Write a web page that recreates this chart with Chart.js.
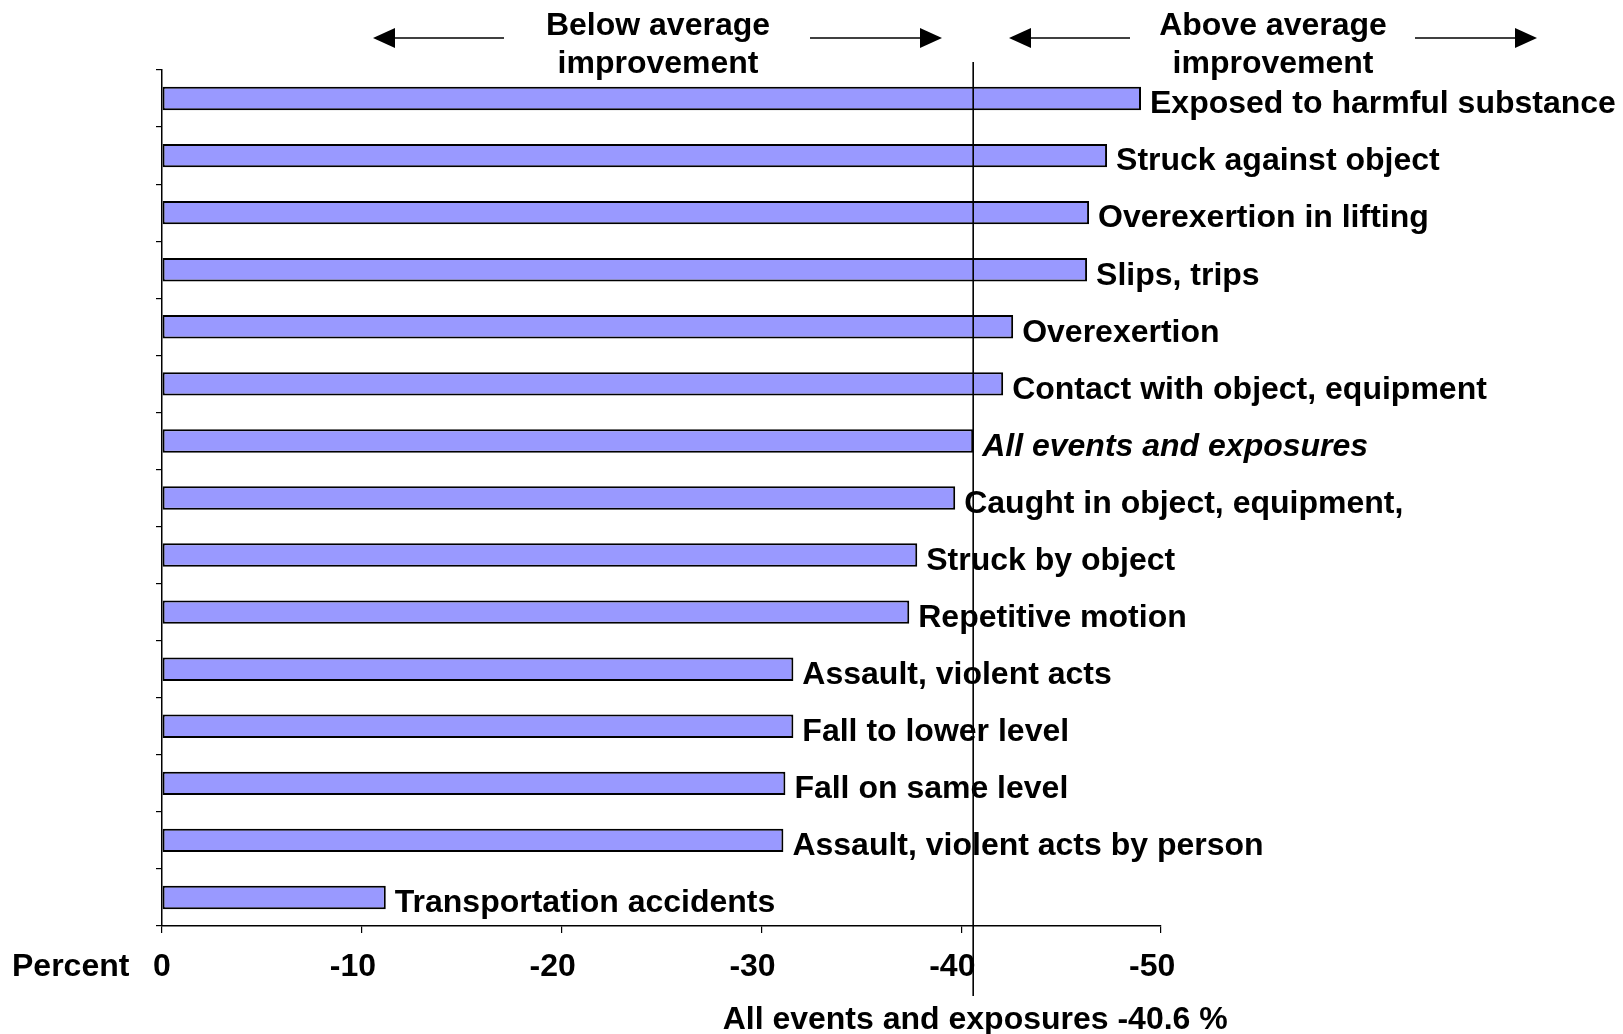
<!DOCTYPE html>
<html>
<head>
<meta charset="utf-8">
<script src="https://cdn.jsdelivr.net/npm/chart.js@4.4.0/dist/chart.umd.min.js"></script>
<style>
  html, body { margin: 0; padding: 0; background: #fff; }
  #wrap { width: 1623px; height: 1034px; }
</style>
</head>
<body>
<div id="wrap"><canvas id="chart"></canvas></div>
<script>
// Event categories, top to bottom
const categories = [
    'Exposed to harmful substance',
    'Struck against object',
    'Overexertion in lifting',
    'Slips, trips',
    'Overexertion',
    'Contact with object, equipment',
    'All events and exposures',
    'Caught in object, equipment,',
    'Struck by object',
    'Repetitive motion',
    'Assault, violent acts',
    'Fall to lower level',
    'Fall on same level',
    'Assault, violent acts by person',
    'Transportation accidents'
];

// Percent change per category
const changes = [-49.0, -47.3, -46.4, -46.3, -42.6, -42.1, -40.6, -39.7, -37.8, -37.4, -31.6, -31.6, -31.2, -31.1, -11.2];

// X axis tick labels
const xTicks = [0, -10, -20, -30, -40, -50];

const averageChange = -40.6;
const italicCategory = 'All events and exposures';
const captionText = 'All events and exposures -40.6 %';
const axisTitle = 'Percent';

const FONT = '"Liberation Sans", Arial, sans-serif';

function drawArrow(ctx, x1, x2, y) {
    // line from x1 to x2, head at x2
    const dir = x2 > x1 ? 1 : -1;
    ctx.beginPath();
    ctx.moveTo(x1, y);
    ctx.lineTo(x2 - dir * 18, y);
    ctx.stroke();
    ctx.beginPath();
    ctx.moveTo(x2, y);
    ctx.lineTo(x2 - dir * 22, y - 10);
    ctx.lineTo(x2 - dir * 22, y + 10);
    ctx.closePath();
    ctx.fill();
}

// Draws bar labels, the average line, arrows and header text
const annotations = {
    id: 'annotations',
    afterDatasetsDraw(chart) {
        const ctx = chart.ctx;
        const xs = chart.scales.x;
        const meta = chart.getDatasetMeta(0);

        ctx.save();
        ctx.fillStyle = '#000';
        ctx.strokeStyle = '#000';
        ctx.textBaseline = 'middle';
        ctx.textAlign = 'left';

        // labels to the right of each bar
        meta.data.forEach((bar, i) => {
            const italic = categories[i] === italicCategory ? 'italic ' : '';
            ctx.font = italic + 'bold 32px ' + FONT;
            ctx.fillText(categories[i], bar.x + 9, bar.y + 6);
        });

        // average line
        const ax = xs.getPixelForValue(averageChange);
        ctx.lineWidth = 1.6;
        ctx.beginPath();
        ctx.moveTo(ax, 62);
        ctx.lineTo(ax, 996);
        ctx.stroke();

        ctx.font = 'bold 32px ' + FONT;
        ctx.fillText(axisTitle, 12, 967);

        ctx.textAlign = 'center';
        ctx.fillText(captionText, ax + 2, 1020);

        // header
        ctx.fillText('Below average', 658, 26);
        ctx.fillText('improvement', 658, 64);
        ctx.fillText('Above average', 1273, 26);
        ctx.fillText('improvement', 1273, 64);

        ctx.lineWidth = 1.6;
        drawArrow(ctx, 504, 373, 38);
        drawArrow(ctx, 810, 942, 38);
        drawArrow(ctx, 1130, 1009, 38);
        drawArrow(ctx, 1415, 1537, 38);

        ctx.restore();
    }
};

function createChart() {
    const ctx = document.getElementById('chart').getContext('2d');
    new Chart(ctx, {
        type: 'bar',
        data: {
            labels: categories,
            datasets: [{
                data: changes,
                backgroundColor: '#9999FF',
                borderColor: '#000',
                borderWidth: 2,
                borderSkipped: false,
                categoryPercentage: 1,
                barPercentage: 0.41
            }]
        },
        options: {
            indexAxis: 'y',
            responsive: true,
            maintainAspectRatio: false,
            animation: false,
            devicePixelRatio: 1,
            layout: { padding: { left: 156, right: 462, top: 70, bottom: 48 } },
            scales: {
                x: {
                    type: 'linear',
                    min: -50,
                    max: 0,
                    reverse: true,
                    position: 'bottom',
                    afterBuildTicks: s => { s.ticks = xTicks.map(v => ({ value: v })); },
                    afterFit: s => { s.height = 60; },
                    grid: { drawOnChartArea: false, tickLength: 7, color: '#000', lineWidth: 1.2 },
                    border: { color: '#000', width: 1.5 },
                    ticks: {
                        color: '#000',
                        padding: 15,
                        font: { family: FONT, size: 32, weight: 'bold' },
                        // digits sit on the tick, the minus sign hangs to the left
                        callback: v => (v === 0 ? '0' : v + '  ')
                    }
                },
                y: {
                    type: 'category',
                    grid: { offset: true, drawOnChartArea: false, tickLength: 6, color: '#000', lineWidth: 1.2 },
                    border: { color: '#000', width: 1.5 },
                    ticks: { display: false },
                    afterFit: s => { s.width = 6; }
                }
            },
            plugins: {
                legend: { display: false },
                tooltip: { enabled: false }
            }
        },
        plugins: [annotations]
    });
}

document.addEventListener('DOMContentLoaded', createChart);
</script>
</body>
</html>
